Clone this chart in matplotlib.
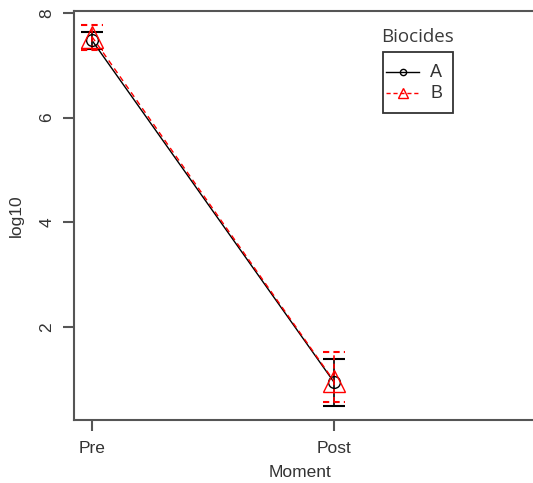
import numpy as np
import matplotlib.pyplot as plt
from matplotlib.lines import Line2D
from matplotlib.patches import Rectangle

plt.rcParams['font.family'] = ['Liberation Sans', 'DejaVu Sans']

## data
moments = ['Pre', 'Post']
biocides = ['A', 'B']
mean_A = [7.48, 0.94]
low_A = [7.31, 0.49]
high_A = [7.64, 1.38]
mean_B = [7.55, 0.96]
low_B = [7.29, 0.56]
high_B = [7.77, 1.52]
yticks = [2, 4, 6, 8]

W, H = 533, 483
txt = '#333333'
fig = plt.figure(figsize=(W / 100, H / 100), dpi=100)
ax = fig.add_axes([74/W, 63/H, 478/W, 409/H])

x = np.arange(1, len(moments) + 1)
cap = 0.045

## A: black solid, circles
ax.plot(x, mean_A, color='black', lw=1.0, zorder=3)
ax.plot(x, mean_A, ls='none', marker='o', ms=8.5, mfc='none', mec='black', mew=1.0, zorder=4)
ax.vlines(x, low_A, high_A, color='black', lw=1.2, zorder=3)
ax.hlines(low_A, x - cap, x + cap, color='black', lw=1.5, zorder=3)
ax.hlines(high_A, x - cap, x + cap, color='black', lw=1.5, zorder=3)

## B: red dashed, triangles
ax.plot(x, mean_B, color='red', lw=1.0, ls=(0, (4, 3)), zorder=3)
ax.plot(x, mean_B, ls='none', marker='^', ms=16, mfc='none', mec='red', mew=1.0, zorder=4)
ax.vlines(x, low_B, high_B, color='red', lw=1.2, linestyles=(0, (3, 2)), zorder=3)
ax.hlines(low_B, x - cap, x + cap, color='red', lw=1.5, linestyles=(0, (3, 2)), zorder=3)
ax.hlines(high_B, x - cap, x + cap, color='red', lw=1.5, linestyles=(0, (3, 2)), zorder=3)

ax.set_xlim(0.926, 2.9)
ax.set_ylim(0.218, 8.04)
ax.set_xticks(x)
ax.set_xticklabels(moments)
ax.set_yticks(yticks)
ax.set_yticklabels([str(v) for v in yticks], rotation=90, va='center')

for s in ax.spines.values():
    s.set_color('#555555')
    s.set_linewidth(1.5)
ax.tick_params(axis='both', length=8, width=1.5, color='#555555', labelsize=12.5, labelcolor=txt)
ax.tick_params(axis='x', pad=7)
ax.tick_params(axis='y', pad=6)

ax.set_xlabel('Moment', fontsize=12.5, color=txt)
ax.xaxis.set_label_coords((300 - 74) / 478, -0.11)
ax.set_ylabel('log10', fontsize=12.5, color=txt)
ax.yaxis.set_label_coords(-0.105, 0.5)

## legend drawn by hand (R style: title above the box)
def fx(px):
    return px / W

def fy(py):
    return 1 - py / H

fig.add_artist(Rectangle((fx(383), fy(113)), fx(453) - fx(383), fy(52) - fy(113),
                         transform=fig.transFigure, fill=False, ec='#333333', lw=1.3))
keys = [dict(color='black', ls='-', marker='o', ms=4.5),
        dict(color='red', ls=(0, (3, 2)), marker='^', ms=7)]
for i, (lab, k) in enumerate(zip(biocides, keys)):
    yy = fy(72 + 21 * i)
    fig.add_artist(Line2D([fx(386), fx(419)], [yy, yy], transform=fig.transFigure,
                          color=k['color'], ls=k['ls'], lw=1.0))
    fig.add_artist(Line2D([fx(402.5)], [yy], transform=fig.transFigure, color=k['color'],
                          marker=k['marker'], ms=k['ms'], mfc='none', mew=1.0))
    fig.text(fx(430), yy, lab, fontsize=13, color=txt, va='center', ha='left')
fig.text(fx(381), fy(37), 'Biocides', fontsize=13.5, color='#3a3a3a', va='center', ha='left',
         family=['Open Sans', 'DejaVu Sans'])

fig.savefig('out.png', dpi=100)
